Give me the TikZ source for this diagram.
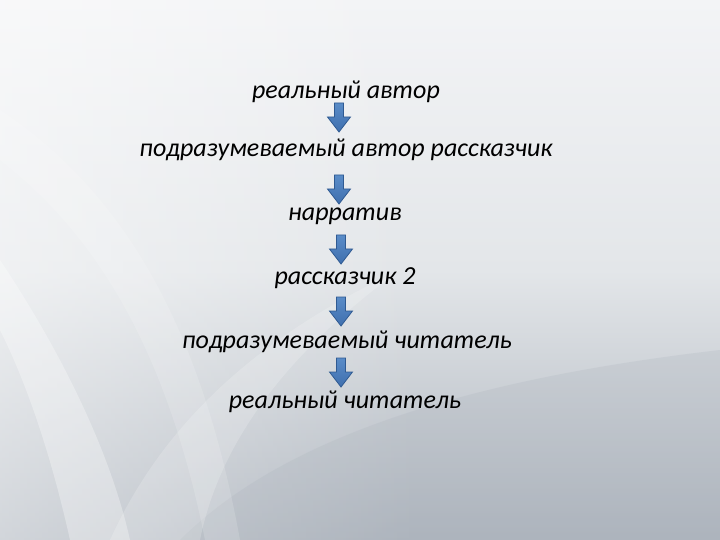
\documentclass[tikz,border=0pt]{standalone}
\usepackage{fontspec}
\setmainfont{Carlito}
\usetikzlibrary{fadings}
\definecolor{bgtop}{HTML}{F3F4F6}
\definecolor{bgmid}{HTML}{E3E6E9}
\definecolor{bgbot}{HTML}{ADB4BD}
\definecolor{arrowtop}{HTML}{5A8CC8}
\definecolor{arrowbot}{HTML}{3F6FAE}
\definecolor{arrowedge}{HTML}{2F5A92}
\tikzset{
  lbl/.style={font=\fontsize{26bp}{30bp}\selectfont\itshape, anchor=base, inner sep=0pt, text=black},
  blockarrow/.style={draw=arrowedge, line width=0.8bp, top color=arrowtop, bottom color=arrowbot, line join=miter},
  sheen/.style={fill=white, draw=none},
}
\newcommand\blockarr[4]{% name, x, y of top, y of tip
  \coordinate (#1-top) at (#2,#3);
  \coordinate (#1-tip) at (#2,#4);
  \draw[blockarrow] (#2-4.5,#3) -- (#2+4.5,#3) -- (#2+4.5,#4-15) -- (#2+11.5,#4-15) -- (#1-tip) -- (#2-11.5,#4-15) -- (#2-4.5,#4-15) -- cycle;}
\begin{document}
\begin{tikzpicture}[x=1bp,y=-1bp]
\useasboundingbox (0,0) rectangle (720,540);
% background
\shade[top color=bgtop, bottom color=bgbot, middle color=bgmid] (0,0) rectangle (720,540);
\fill[white, path fading=east, opacity=0.45] (0,0) rectangle (420,540);
\fill[bgbot, opacity=0.25] (180,540) .. controls (280,440) and (460,380) .. (720,350) -- (720,540) -- cycle;
\fill[sheen, opacity=0.30] (0,260) .. controls (60,350) and (110,450) .. (130,540) -- (70,540) .. controls (50,450) and (25,380) .. (0,330) -- cycle;
\fill[sheen, opacity=0.18] (110,540) .. controls (160,430) and (250,340) .. (400,270) .. controls (290,350) and (220,440) .. (200,540) -- cycle;
\fill[sheen, opacity=0.15] (0,110) .. controls (120,190) and (200,320) .. (240,540) -- (205,540) .. controls (165,340) and (90,230) .. (0,160) -- cycle;
% texts
\node[lbl] (t1) at (346,99)  {реальный автор};
\node[lbl] (t2) at (346,157) {подразумеваемый автор рассказчик};
\node[lbl] (t3) at (345,221) {нарратив};
\node[lbl] (t4) at (345,285) {рассказчик 2};
\node[lbl] (t5) at (347,348) {подразумеваемый читатель};
\node[lbl] (t6) at (345,408) {реальный читатель};
% arrows between the texts
\blockarr{a1}{339}{103}{132}
\blockarr{a2}{339}{175}{204}
\blockarr{a3}{341}{235}{264}
\blockarr{a4}{341}{297}{326}
\blockarr{a5}{341}{358}{387}
\end{tikzpicture}
\end{document}
